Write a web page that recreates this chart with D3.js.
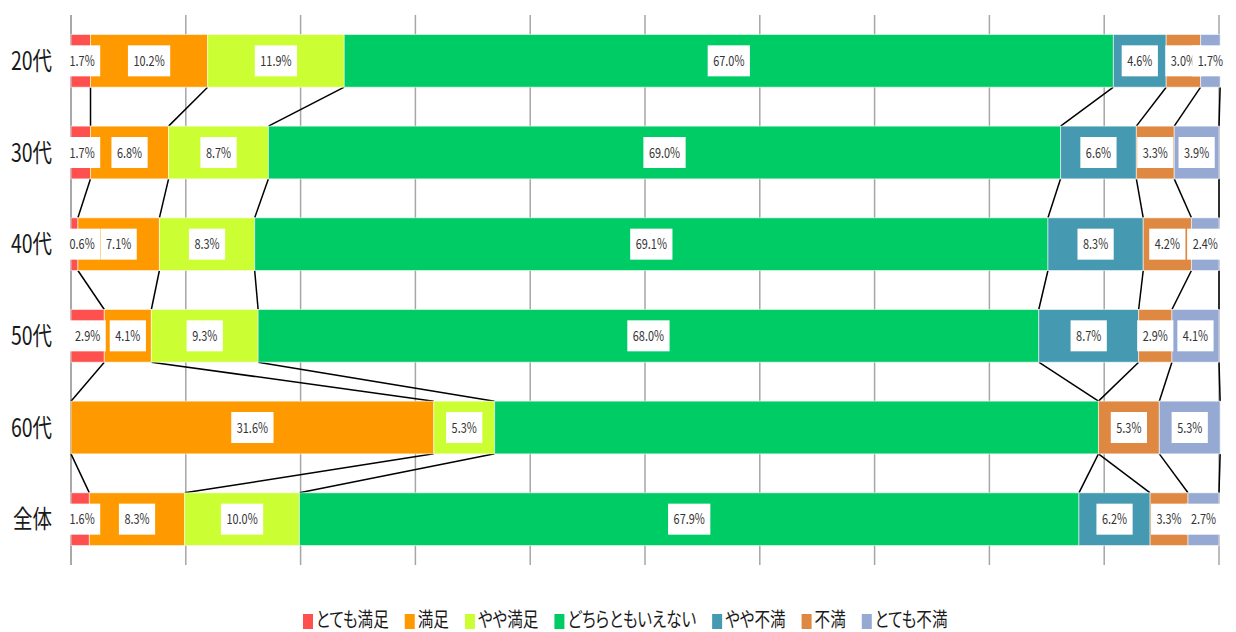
<!DOCTYPE html>
<meta charset="utf-8">
<style>
    body { margin: 0; background: #fff; }
    text { font-family: "Noto Sans CJK JP", "Noto Sans", sans-serif; }
    .legend text { font-feature-settings: "palt"; }
</style>
<svg width="1236" height="632"></svg>
<script src="https://d3js.org/d3.v7.min.js"></script>
<script>
    // 年代ごとの満足度（%）
    var ages = ['20代', '30代', '40代', '50代', '60代', '全体'];
    var levels = ['とても満足', '満足', 'やや満足', 'どちらともいえない', 'やや不満', '不満', 'とても不満'];
    var colors = ['#ff5050', '#ff9900', '#ccff33', '#00cc66', '#4599b1', '#de8841', '#95a9d2'];
    var v20 = [1.7, 10.2, 11.9, 67.0, 4.6, 3.0, 1.7];
    var v30 = [1.7, 6.8, 8.7, 69.0, 6.6, 3.3, 3.9];
    var v40 = [0.6, 7.1, 8.3, 69.1, 8.3, 4.2, 2.4];
    var v50 = [2.9, 4.1, 9.3, 68.0, 8.7, 2.9, 4.1];
    var v60 = [0, 31.6, 5.3, 52.6, 0, 5.3, 5.3];
    var vAll = [1.6, 8.3, 10.0, 67.9, 6.2, 3.3, 2.7];
    // 60代の「どちらともいえない」はラベル無し
    var hiddenLabels = ['60代|どちらともいえない'];
    var xTicks = d3.range(0, 101, 10);

    var rows = [v20, v30, v40, v50, v60, vAll];
    var svg = d3.select('svg');
    var plot = {left: 71, right: 1219, top: 15, bottom: 565};

    var x = d3.scaleLinear().domain([0, 100]).range([plot.left, plot.right]);
    var y = d3.scaleBand().domain(ages).range([plot.top, plot.bottom])
        .paddingInner(0.425).paddingOuter(0.2125);

    // 細身のフォントに見せるため横方向に縮めたテキスト（幅を返す）
    function narrowText(parent, px, py, str, size, k, anchor, fill) {
        var g = parent.append('g').attr('transform', 'translate(' + px + ',' + py + ') scale(' + k + ',1)');
        var t = g.append('text').attr('font-size', size).attr('fill', fill)
            .attr('text-anchor', anchor).text(str);
        return t.node().getComputedTextLength() * k;
    }

    var stacked = rows.map(function (vals, i) {
        var acc = 0;
        return vals.map(function (v, j) {
            var seg = {age: ages[i], level: levels[j], value: v, x0: acc, x1: acc + v, j: j};
            acc += v;
            return seg;
        });
    });

    // 目盛線
    svg.append('g').selectAll('line').data(xTicks).enter().append('line')
        .attr('x1', function (d) { return x(d); })
        .attr('x2', function (d) { return x(d); })
        .attr('y1', plot.top).attr('y2', plot.bottom)
        .attr('stroke', function (d) { return d === 0 ? '#8c8c8c' : '#a6a6a6'; })
        .attr('stroke-width', 1.5);

    // 区分線
    var links = svg.append('g');
    for (var i = 0; i < ages.length - 1; i++) {
        stacked[i].forEach(function (seg, j) {
            var next = stacked[i + 1][j];
            links.append('line')
                .attr('x1', x(seg.x1)).attr('y1', y(ages[i]) + y.bandwidth())
                .attr('x2', x(next.x1)).attr('y2', y(ages[i + 1]))
                .attr('stroke', '#000').attr('stroke-width', 1.5);
        });
    }

    // 棒
    var bars = svg.append('g').selectAll('g').data(stacked).enter().append('g');
    bars.selectAll('rect').data(function (d) { return d.filter(function (s) { return s.value > 0; }); })
        .enter().append('rect')
        .attr('x', function (d) { return x(d.x0); })
        .attr('width', function (d) { return x(d.x1) - x(d.x0); })
        .attr('y', function (d) { return y(d.age); })
        .attr('height', y.bandwidth())
        .attr('fill', function (d) { return colors[d.j]; })
        .attr('stroke', 'rgba(255,255,255,0.55)')
        .attr('stroke-width', 1);

    // 値ラベル
    var labels = svg.append('g');
    stacked.forEach(function (row) {
        row.forEach(function (d) {
            if (d.value <= 0 || hiddenLabels.indexOf(d.age + '|' + d.level) >= 0) return;
            var cx = (x(d.x0) + x(d.x1)) / 2;
            var cy = y(d.age) + y.bandwidth() / 2;
            var g = labels.append('g');
            var box = g.append('rect').attr('fill', '#fff');
            var tg = g.append('g');
            var w = narrowText(tg, 0, 0, d.value.toFixed(1) + '%', 14, 0.78, 'middle', '#333') + 11;
            cx = Math.max(cx, 64 + w / 2);
            tg.attr('transform', 'translate(' + cx + ',' + (cy + 5) + ')');
            box.attr('x', cx - w / 2).attr('y', cy - 15.5).attr('width', w).attr('height', 31);
        });
    });

    // 年代ラベル
    var cat = svg.append('g');
    ages.forEach(function (d) {
        narrowText(cat, 52, y(d) + y.bandwidth() / 2 + 9, d, 25, 0.78, 'end', '#1a1a1a');
    });

    // 凡例
    var legend = svg.append('g').attr('class', 'legend');
    var lx = 303;
    levels.forEach(function (name, j) {
        legend.append('rect').attr('x', lx).attr('y', 614).attr('width', 10).attr('height', 15)
            .attr('fill', colors[j]);
        var w = narrowText(legend, lx + 13, 627, name, 20, 0.78, 'start', '#1a1a1a');
        lx += 13 + w + 16;
    });
</script>
